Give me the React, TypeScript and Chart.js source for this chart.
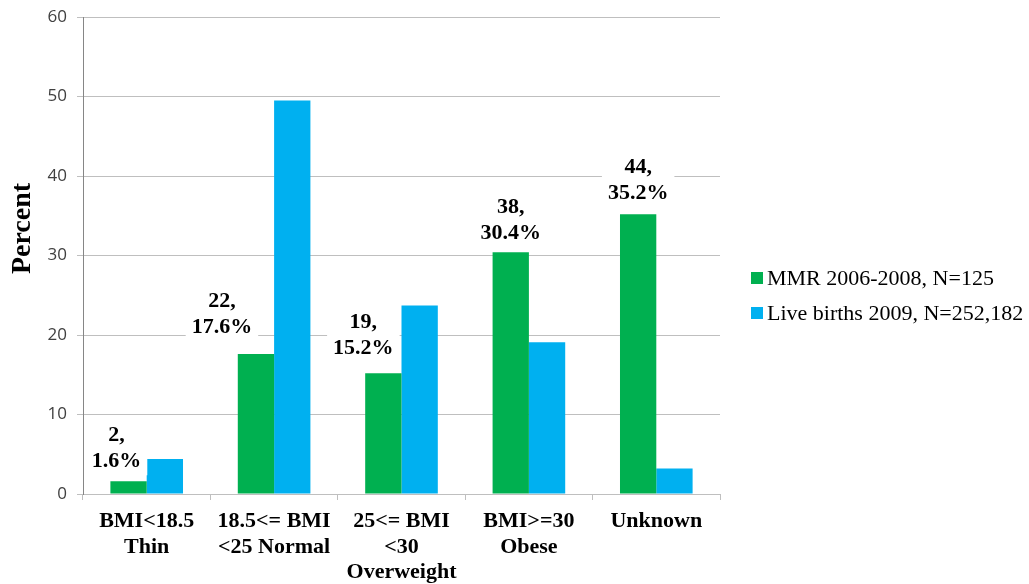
import React, { useEffect, useRef } from "react";
import { Chart, registerables } from "chart.js";

Chart.register(...registerables);

const categories: string[][] = [
  ["BMI<18.5", "Thin"],
  ["18.5<= BMI", "<25 Normal"],
  ["25<= BMI", "<30", "Overweight"],
  ["BMI>=30", "Obese"],
  ["Unknown"],
];
const mmrLabel = "MMR 2006-2008, N=125";
const birthsLabel = "Live births 2009, N=252,182";
const mmrPercent = [1.6, 17.6, 15.2, 30.4, 35.2];
const mmrCounts = [2, 22, 19, 38, 44];
const birthsPercent = [4.4, 49.5, 23.7, 19.1, 3.2];
const yTicks = [0, 10, 20, 30, 40, 50, 60];
const yTitle = "Percent";

const SERIF = "'Liberation Serif', 'Times New Roman', serif";

// label placement tweaks (pixels, relative to green bar top-center)
const labelDx = [-12, -34, -20, 0, 0];
const labelRaise = [20, 27, 25, 19, 21];

const dataLabelPlugin = {
  id: "dataLabels",
  afterDatasetsDraw(chart: any) {
    const ctx = chart.ctx;
    const meta = chart.getDatasetMeta(0);
    ctx.save();
    ctx.font = `bold 22px ${SERIF}`;
    ctx.textAlign = "center";
    ctx.textBaseline = "middle";
    const lh = 26;
    meta.data.forEach((bar: any, i: number) => {
      const l1 = `${mmrCounts[i]},`;
      const l2 = `${mmrPercent[i].toFixed(1)}%`;
      const cx = bar.x + labelDx[i];
      const y2 = bar.y - labelRaise[i];
      const y1 = y2 - lh;
      const w = Math.max(ctx.measureText(l1).width, ctx.measureText(l2).width) + 12;
      ctx.fillStyle = "#ffffff";
      ctx.fillRect(cx - w / 2, y1 - 14, w, lh + 28);
      ctx.fillStyle = "#000000";
      ctx.fillText(l1, cx, y1);
      ctx.fillText(l2, cx, y2);
    });
    ctx.restore();
  },
};

const extrasPlugin = {
  id: "extras",
  afterDraw(chart: any) {
    const ctx = chart.ctx;
    const area = chart.chartArea;
    ctx.save();
    // y axis title
    ctx.font = `bold 28px ${SERIF}`;
    ctx.fillStyle = "#000000";
    ctx.textAlign = "center";
    ctx.textBaseline = "middle";
    ctx.translate(23, (area.top + area.bottom) / 2 - 27);
    ctx.rotate(-Math.PI / 2);
    ctx.fillText(yTitle, 0, 0);
    ctx.restore();

    // legend
    ctx.save();
    ctx.font = `22px ${SERIF}`;
    ctx.textBaseline = "middle";
    ctx.textAlign = "left";
    const ys = [278, 313];
    chart.data.datasets.forEach((ds: any, i: number) => {
      const x = area.right + 31;
      ctx.fillStyle = ds.backgroundColor;
      ctx.fillRect(x, ys[i] - 6, 12, 12);
      ctx.fillStyle = "#000000";
      ctx.fillText(ds.label, x + 16, ys[i] + 1);
    });
    ctx.restore();
  },
};

export default function App() {
  const ref = useRef<HTMLCanvasElement | null>(null);
  useEffect(() => {
    if (!ref.current) return;
    const chart = new Chart(ref.current, {
      type: "bar",
      data: {
        labels: categories,
        datasets: [
          {
            label: mmrLabel,
            data: mmrPercent,
            backgroundColor: "#00B050",
            categoryPercentage: 0.57,
            barPercentage: 1,
          },
          {
            label: birthsLabel,
            data: birthsPercent,
            backgroundColor: "#00B0F0",
            categoryPercentage: 0.57,
            barPercentage: 1,
          },
        ],
      },
      options: {
        responsive: false,
        animation: false,
        devicePixelRatio: 1,
        layout: { padding: { top: 17, right: 309, left: 0, bottom: 0 } },
        plugins: {
          legend: { display: false },
          tooltip: { enabled: false },
          title: { display: false },
        },
        scales: {
          x: {
            offset: true,
            grid: {
              offset: true,
              drawOnChartArea: false,
              drawTicks: true,
              tickLength: 6,
              color: "#BFBFBF",
            },
            border: { color: "#BFBFBF" },
            ticks: {
              color: "#000000",
              padding: 9,
              maxRotation: 0,
              autoSkip: false,
              font: { family: SERIF, size: 22, weight: "bold", lineHeight: 1.15 },
            },
            afterFit: (scale: any) => {
              scale.height = 90;
              scale.paddingLeft = 0;
              scale.paddingRight = 0;
            },
          },
          y: {
            min: 0,
            max: 60,
            afterBuildTicks: (scale: any) => {
              scale.ticks = yTicks.map((v) => ({ value: v }));
            },
            grid: { color: "#BFBFBF", tickLength: 6 },
            border: { color: "#868686" },
            ticks: {
              color: "#404040",
              padding: 10,
              font: { family: "'Open Sans', sans-serif", size: 17 },
            },
            afterFit: (scale: any) => {
              scale.width = 83;
              scale.paddingTop = 0;
              scale.paddingBottom = 0;
            },
          },
        },
      },
      plugins: [dataLabelPlugin, extrasPlugin],
    } as any);
    return () => chart.destroy();
  }, []);
  return (
    <div style={{ position: "fixed", left: 0, top: 0, width: 1029, height: 584, background: "#fff" }}>
      <canvas ref={ref} width={1029} height={584} style={{ width: 1029, height: 584, display: "block" }} />
    </div>
  );
}
